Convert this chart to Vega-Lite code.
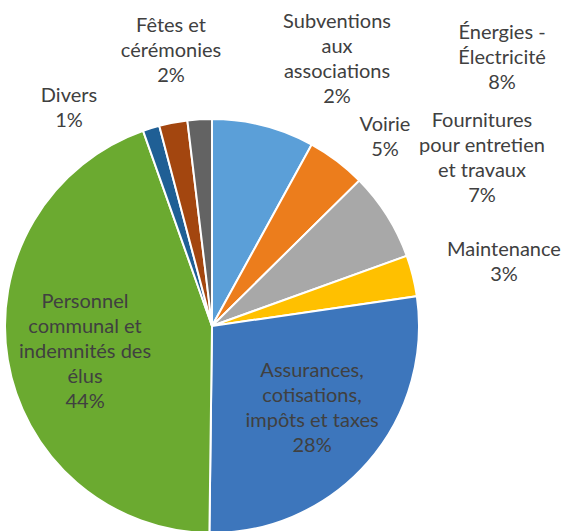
{
  "$schema": "https://vega.github.io/schema/vega-lite/v6.json",
  "width": 424,
  "height": 414,
  "padding": {"left": 0, "top": 119, "right": 140, "bottom": 0},
  "autosize": {"type": "none"},
  "background": "white",
  "config": {"view": {"stroke": null}},
  "data": {
    "values": [
      {"poste": "Énergies - Électricité", "pct": 8.0, "etiquette": "Énergies -\nÉlectricité\n8%"},
      {"poste": "Voirie", "pct": 4.6, "etiquette": "Voirie\n5%"},
      {"poste": "Fournitures pour entretien et travaux", "pct": 6.9, "etiquette": "Fournitures\npour entretien\net travaux\n7%"},
      {"poste": "Maintenance", "pct": 3.2, "etiquette": "Maintenance\n3%"},
      {"poste": "Assurances, cotisations, impôts et taxes", "pct": 27.5, "etiquette": "Assurances,\ncotisations,\nimpôts et taxes\n28%"},
      {"poste": "Personnel communal et indemnités des élus", "pct": 44.4, "etiquette": "Personnel\ncommunal et\nindemnités des\nélus\n44%"},
      {"poste": "Divers", "pct": 1.3, "etiquette": "Divers\n1%"},
      {"poste": "Fêtes et cérémonies", "pct": 2.2, "etiquette": "Fêtes et\ncérémonies\n2%"},
      {"poste": "Subventions aux associations", "pct": 1.9, "etiquette": "Subventions\naux\nassociations\n2%"}
    ]
  },
  "transform": [{"window": [{"op": "row_number", "as": "rang"}]}],
  "layer": [
    {
      "mark": {"type": "arc", "outerRadius": 207, "stroke": "white", "strokeWidth": 2},
      "encoding": {
        "theta": {"field": "pct", "type": "quantitative", "stack": true},
        "order": {"field": "rang", "type": "quantitative"},
        "color": {
          "field": "poste",
          "type": "nominal",
          "scale": {
            "domain": ["Énergies - Électricité", "Voirie", "Fournitures pour entretien et travaux", "Maintenance", "Assurances, cotisations, impôts et taxes", "Personnel communal et indemnités des élus", "Divers", "Fêtes et cérémonies", "Subventions aux associations"],
            "range": ["#5B9FD8", "#EC7D1C", "#A8A8A8", "#FFC000", "#3D76BC", "#6BAA30", "#1F5F95", "#A3460F", "#636363"]
          },
          "legend": null
        }
      }
    },
    {
      "mark": {
        "type": "text",
        "font": "Lato",
        "fontSize": 20,
        "color": "#404040",
        "lineBreak": "\n",
        "lineHeight": 25,
        "align": "center",
        "baseline": "middle",
        "theta": {"expr": "{'Divers': -0.5563, 'Fêtes et cérémonies': -0.1358, 'Subventions aux associations': 0.3903, 'Énergies - Électricité': 0.7804, 'Voirie': 0.7107, 'Fournitures pour entretien et travaux': 0.9213, 'Maintenance': 1.3162, 'Assurances, cotisations, impôts et taxes': 1.9937, 'Personnel communal et indemnités des élus': -1.384}[datum.poste]"},
        "radius": {"expr": "{'Divers': 270.8, 'Fêtes et cérémonies': 302.8, 'Subventions aux associations': 328.7, 'Énergies - Électricité': 412.3, 'Voirie': 265.2, 'Fournitures pour entretien et travaux': 339, 'Maintenance': 301.7, 'Assurances, cotisations, impôts et taxes': 109.7, 'Personnel communal et indemnités des élus': 129.2}[datum.poste]"}
      },
      "encoding": {
        "text": {"field": "etiquette", "type": "nominal"}
      }
    }
  ]
}
